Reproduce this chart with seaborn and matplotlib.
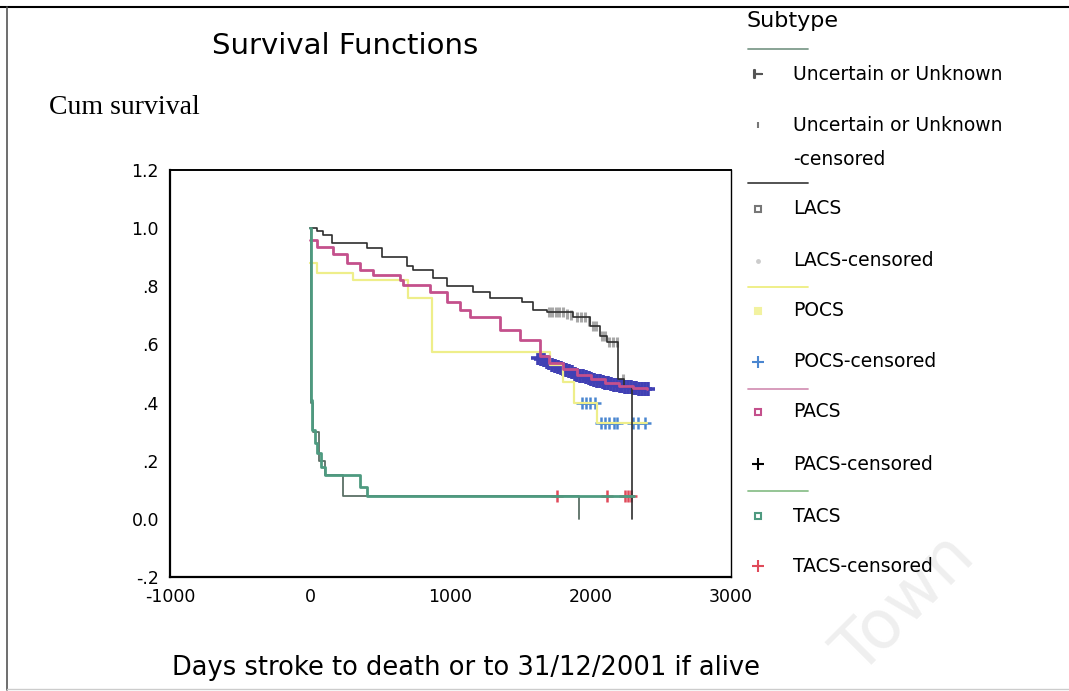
import numpy as np
import pandas as pd
import matplotlib
matplotlib.use("Agg")
import matplotlib.pyplot as plt
from matplotlib.lines import Line2D
import seaborn as sns

# Kaplan-Meier steps (days, cumulative survival)
unk_t = [0, 5, 20, 60, 107, 235, 1917]
unk_s = [1.0, 0.40, 0.30, 0.20, 0.15, 0.08, 0.0]

lacs_t = [0, 50, 93, 157, 406, 513, 690, 734, 876, 976, 1163, 1283, 1511, 1590,
          1690, 1875, 1996, 2067, 2117, 2195, 2240, 2295]
lacs_s = [1.0, 0.99, 0.976, 0.95, 0.93, 0.90, 0.87, 0.855, 0.83, 0.80, 0.78, 0.76,
          0.745, 0.72, 0.71, 0.695, 0.665, 0.63, 0.61, 0.48, 0.455, 0.0]
lacs_cens_t = [1700, 1725, 1750, 1775, 1800, 1830, 1860, 1900, 1930, 1960, 1990,
               2015, 2040, 2080, 2100, 2130, 2160, 2185, 2230]
lacs_cens_s = [0.71, 0.71, 0.71, 0.71, 0.71, 0.705, 0.70, 0.695, 0.695, 0.695, 0.68,
               0.665, 0.665, 0.63, 0.63, 0.61, 0.61, 0.61, 0.48]

pocs_t = [0, 50, 306, 698, 870, 1710, 1800, 1880, 2045, 2400]
pocs_s = [0.88, 0.847, 0.823, 0.76, 0.575, 0.53, 0.47, 0.40, 0.33, 0.33]
pocs_cens_t = [1935, 1965, 1995, 2030, 2075, 2100, 2130, 2165, 2190, 2300, 2340, 2390]
pocs_cens_s = [0.40, 0.40, 0.40, 0.40, 0.33, 0.33, 0.33, 0.33, 0.33, 0.33, 0.33, 0.33]

pacs_t = [0, 50, 164, 264, 356, 449, 641, 663, 855, 976, 1069, 1140, 1354, 1497,
          1640, 1700, 1800, 1900, 2000, 2100, 2200, 2300, 2400]
pacs_s = [0.96, 0.935, 0.91, 0.88, 0.857, 0.84, 0.823, 0.805, 0.78, 0.747, 0.72,
          0.695, 0.65, 0.616, 0.56, 0.535, 0.515, 0.495, 0.48, 0.468, 0.458, 0.45, 0.445]
pacs_cens_t = [1625, 1645, 1665, 1685, 1705, 1725, 1745, 1765, 1785, 1805, 1825,
               1845, 1865, 1885, 1905, 1925, 1945, 1965, 1985, 2005, 2025, 2045,
               2065, 2085, 2105, 2125, 2145, 2165, 2185, 2205, 2225, 2245, 2265,
               2285, 2305, 2325, 2345, 2365, 2385, 2405]
pacs_cens_s = [0.555, 0.55, 0.545, 0.54, 0.535, 0.53, 0.527, 0.523, 0.52, 0.515,
               0.512, 0.508, 0.505, 0.50, 0.495, 0.492, 0.49, 0.487, 0.483, 0.48,
               0.477, 0.475, 0.473, 0.47, 0.468, 0.466, 0.464, 0.462, 0.46, 0.458,
               0.456, 0.455, 0.453, 0.452, 0.45, 0.449, 0.448, 0.447, 0.446, 0.445]

tacs_t = [0, 5, 15, 36, 50, 80, 107, 356, 405, 2310]
tacs_s = [1.0, 0.41, 0.306, 0.26, 0.227, 0.18, 0.15, 0.11, 0.08, 0.08]
tacs_cens_t = [1760, 2117, 2245, 2265, 2285]
tacs_cens_s = [0.08, 0.08, 0.08, 0.08, 0.08]

x_ticks = [-1000, 0, 1000, 2000, 3000]
y_ticks = [-0.2, 0.0, 0.2, 0.4, 0.6, 0.8, 1.0, 1.2]
y_labels = ["-.2", "0.0", ".2", ".4", ".6", ".8", "1.0", "1.2"]

legend_labels = ["Uncertain or Unknown", "Uncertain or Unknown\n-censored", "LACS",
                 "LACS-censored", "POCS", "POCS-censored", "PACS", "PACS-censored",
                 "TACS", "TACS-censored"]

c_unk = "#5b6f66"
c_lacs = "#2e2e2e"
c_lacs_c = "#a8a8a8"
c_pocs = "#eeee8a"
c_pocs_c = "#4a86d0"
c_pacs = "#c4508c"
c_pacs_c = "#4040b4"
c_tacs = "#4e9a80"
c_tacs_c = "#e04a5a"

W, H = 1069, 691
sns.set_style("white")
plt.rcParams["font.family"] = ["DejaVu Sans"]
plt.rcParams["text.color"] = "black"
plt.rcParams["axes.unicode_minus"] = False
fig = plt.figure(figsize=(W / 100, H / 100), dpi=100)
ax = fig.add_axes([170 / W, 1 - 577 / H, 561 / W, 407 / H])


def fx(px):
    return px / W


def fy(py):
    return 1 - py / H


def km(t, s, color, lw):
    sns.lineplot(x=t, y=s, ax=ax, color=color, lw=lw, drawstyle="steps-post",
                 estimator=None, sort=False, legend=False)


km(pocs_t, pocs_s, c_pocs, 1.6)
km(lacs_t, lacs_s, c_lacs, 1.2)
sns.scatterplot(x=lacs_cens_t, y=lacs_cens_s, ax=ax, marker="|", s=45,
                color=c_lacs_c, linewidth=2.2, legend=False)
km(pacs_t, pacs_s, c_pacs, 2.0)
km(unk_t, unk_s, c_unk, 1.3)
km(tacs_t, tacs_s, c_tacs, 2.0)
sns.scatterplot(x=pacs_cens_t, y=pacs_cens_s, ax=ax, marker="+", s=100,
                color=c_pacs_c, linewidth=2.6, legend=False)
sns.scatterplot(x=pocs_cens_t, y=pocs_cens_s, ax=ax, marker="+", s=80,
                color=c_pocs_c, linewidth=1.8, legend=False)
sns.scatterplot(x=tacs_cens_t, y=tacs_cens_s, ax=ax, marker="+", s=80,
                color=c_tacs_c, linewidth=1.8, legend=False)

ax.set_xlim(-1000, 3000)
ax.set_ylim(-0.2, 1.2)
ax.set_xticks(x_ticks)
ax.set_yticks(y_ticks)
ax.set_yticklabels(y_labels)
ax.tick_params(direction="out", length=4, width=2.5, labelsize=12.5, colors="black",
               pad=4)
for sp in ax.spines.values():
    sp.set_visible(True)
    sp.set_color("black")
ax.spines["left"].set_linewidth(1.6)
ax.spines["bottom"].set_linewidth(1.6)
ax.spines["top"].set_linewidth(1.4)
ax.spines["right"].set_linewidth(1.0)
ax.set_xlabel("")
ax.set_ylabel("")

# texts
fig.text(fx(345), fy(46), "Survival Functions", fontsize=21, ha="center", va="center")
fig.text(fx(49), fy(108), "Cum survival", fontsize=20, ha="left", va="center",
         family="Liberation Serif")
fig.text(fx(466), fy(668), "Days stroke to death or to 31/12/2001 if alive",
         fontsize=18.5, ha="center", va="center")

# legend drawn by hand, SPSS style
fig.text(fx(747), fy(21), "Subtype", fontsize=16, ha="left", va="center")
sep_lines = [(49, "#7f9c8c"), (183, "#444444"), (287, "#eeee80"),
             (389, "#d494b6"), (491, "#8cc08c")]
for yy, cc in sep_lines:
    fig.add_artist(Line2D([fx(748), fx(808)], [fy(yy), fy(yy)], color=cc, lw=1.3))

leg_y = [74, 125, 209, 261, 311, 362, 412, 464, 516, 566]
leg_mk = [("$\\vdash$", "#555555", "none", 6), ("|", "#777777", "none", 5),
          ("s", "none", "#777777", 4), (".", "#cccccc", "none", 4),
          ("s", "#f2f2a0", "#f2f2a0", 5), ("+", c_pocs_c, "none", 8),
          ("s", "none", c_pacs, 5), ("+", "black", "none", 8),
          ("s", "none", c_tacs, 5), ("+", c_tacs_c, "none", 8)]
for yy, lab, (m, c, fc, ms) in zip(leg_y, legend_labels, leg_mk):
    if m == "s":
        fig.add_artist(Line2D([fx(758)], [fy(yy)], marker=m, ms=ms, mec=fc,
                              mfc=c if c != "none" else "white", mew=1.5, ls="none"))
    else:
        fig.add_artist(Line2D([fx(758)], [fy(yy)], marker=m, ms=ms, color=c,
                              mew=1.5, ls="none"))
    two = "\n" in lab
    fig.text(fx(793), fy(yy - 9) if two else fy(yy), lab, fontsize=13.5, ha="left",
             va="top" if two else "center", linespacing=2.0)

# page frame from the scan
fig.add_artist(Line2D([0, 1], [fy(7), fy(7)], color="black", lw=1.5))
fig.add_artist(Line2D([fx(7), fx(7)], [fy(7), fy(690)], color="#555555", lw=1.2))
fig.add_artist(Line2D([fx(7), 1], [fy(689), fy(689)], color="#cccccc", lw=1.0))

# faint watermark
fig.text(fx(905), fy(605), "Town", fontsize=48, color="#efefef", rotation=45,
         ha="center", va="center", zorder=0)

fig.savefig("out.png", dpi=100)
